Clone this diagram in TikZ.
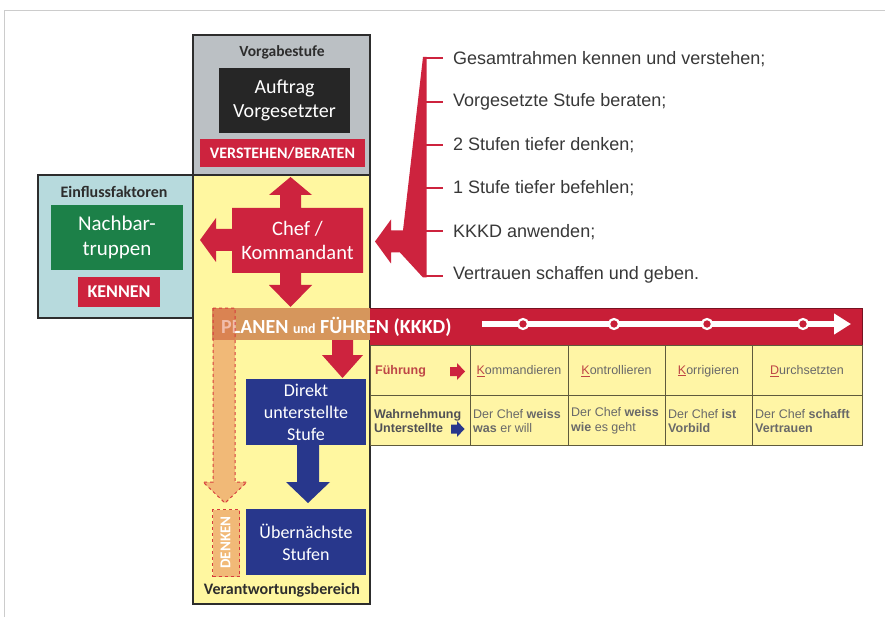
\documentclass[tikz,border=0pt]{standalone}
\usepackage{fontspec}
\setmainfont{Carlito}
\newfontfamily\arial{Liberation Sans}
\usetikzlibrary{arrows.meta}
\definecolor{cred}{RGB}{205,35,62}
\definecolor{cgray}{RGB}{187,192,196}
\definecolor{cblack}{RGB}{38,38,38}
\definecolor{clblue}{RGB}{183,218,221}
\definecolor{cgreen}{RGB}{28,128,72}
\definecolor{cyel}{RGB}{255,247,160}
\definecolor{ctab}{RGB}{255,245,165}
\definecolor{cnavy}{RGB}{40,55,140}
\definecolor{corange}{RGB}{214,150,92}
\definecolor{cband}{RGB}{200,30,55}
\definecolor{ctxt}{RGB}{105,105,105}
\definecolor{cdtxt}{RGB}{80,80,85}
\definecolor{cbrown}{RGB}{190,70,70}
\definecolor{cframe}{RGB}{45,45,45}
\definecolor{cdash}{RGB}{215,60,60}
\definecolor{cline}{RGB}{95,90,60}
\tikzset{
  area/.style={draw=cframe, line width=1.1pt, inner sep=0pt, outer sep=0pt, anchor=north west},
  tile/.style={inner sep=0pt, outer sep=0pt, anchor=north west, text=white, align=center},
  lbl/.style={font=\bfseries\fontsize{16}{18}\selectfont, text=cframe, inner sep=0pt},
  listtxt/.style={anchor=west, inner sep=0pt, font=\arial\fontsize{18}{20}\selectfont, text=black!78},
  tick/.style={draw=cred, line width=2.6pt},
  tabtxt/.style={inner sep=0pt, font=\arial\fontsize{12.5}{14.5}\selectfont, text=ctxt},
  cell/.style={tabtxt, anchor=west, align=left},
  dashbox/.style={draw=cdash, dashed, line width=1pt, fill={rgb,255:red,225;green,110;blue,70}, fill opacity=0.45},
}
\newcommand{\kk}[1]{\textcolor{cbrown}{\underline{#1}}}
\begin{document}
\begin{tikzpicture}[x=1pt,y=-1pt]
\useasboundingbox (0,0) rectangle (885,617);
\fill[white] (0,0) rectangle (885,617);
% faint frame
\draw[black!20, line width=0.8pt] (4,617) -- (4,10) -- (885,10);

% Vorgabestufe
\node[area, fill=cgray, minimum width=177pt, minimum height=140pt] (vorg) at (193,35) {};
\node[lbl, font=\bfseries\fontsize{15.5}{18}\selectfont] (vorglbl) at (282,52) {Vorgabestufe};
\node[tile, fill=cblack, minimum width=131pt, minimum height=65pt, font=\fontsize{20}{24}\selectfont] (auftrag) at (219,68) {Auftrag\\Vorgesetzter};
\node[tile, fill=cred, minimum width=165pt, minimum height=28pt, font=\bfseries\fontsize{16}{18}\selectfont] (verst) at (200,139) {VERSTEHEN/BERATEN};

% Einflussfaktoren
\node[area, fill=clblue, minimum width=155pt, minimum height=143pt] (einfl) at (38,175) {};
\node[lbl] (einfllbl) at (114,192) {Einflussfaktoren};
\node[tile, fill=cgreen, minimum width=132pt, minimum height=65pt, font=\fontsize{21}{25}\selectfont] (nachbar) at (51,205) {Nachbar-\\truppen};
\node[tile, fill=cred, minimum width=82pt, minimum height=30pt, font=\bfseries\fontsize{18}{20}\selectfont] (kennen) at (78,277) {KENNEN};

% Verantwortungsbereich
\node[area, fill=cyel, minimum width=177pt, minimum height=429pt] (verant) at (193,175) {};
\node[lbl] (verantlbl) at (282,590) {Verantwortungsbereich};

% Chef cross
\fill[cred] (232,208) -- (280,208) -- (280,195) -- (269,195) -- (290.5,177) -- (312,195) -- (301,195) -- (301,208)
  -- (363,208) -- (363,273) -- (301,273) -- (301,285) -- (312,285) -- (290.5,307) -- (269,285) -- (280,285) -- (280,273)
  -- (232,273) -- (232,251) -- (216,251) -- (216,262) -- (200,240) -- (216,218) -- (216,229) -- (232,229) -- cycle;
\node[text=white, align=center, inner sep=0pt, font=\fontsize{20.5}{24}\selectfont] (chef) at (297.5,240.5) {Chef /\\Kommandant};

% bracket arrow
\fill[cred] (423,57) -- (426.5,57) -- (426.5,277.5) -- (423,277.5) -- (400,252.5) -- (391,252.5) -- (391,263.5)
  -- (375,241.5) -- (391,219.5) -- (391,230.5) -- (403,230.5) -- cycle;
\foreach \yy in {58,102,145,188,231,276} \draw[tick] (424,\yy) -- (443,\yy);
\node[listtxt] (l1) at (453,59) {Gesamtrahmen kennen und verstehen;};
\node[listtxt] (l2) at (453,102) {Vorgesetzte Stufe beraten;};
\node[listtxt] (l3) at (453,145) {2 Stufen tiefer denken;};
\node[listtxt] (l4) at (453,188) {1 Stufe tiefer befehlen;};
\node[listtxt] (l5) at (453,232) {KKKD anwenden;};
\node[listtxt] (l6) at (453,275) {Vertrauen schaffen und geben.};

% band
\fill[corange] (212,308) rectangle (370,340);
\fill[cband] (370,308) rectangle (862,345);
\draw[cband!60!black, line width=0.8pt] (370,308) -- (862,308) -- (862,345);
\node[anchor=base west, inner sep=0pt, text=white, font=\bfseries\fontsize{20}{22}\selectfont] (band) at (221,333)
  {PLANEN {\fontsize{14}{14}\selectfont und} FÜHREN (KKKD)};
\draw[white, line width=6.5pt, -{Triangle[length=17pt,width=20pt]}] (482,324) -- (851,324);
\foreach \xx in {523,614,707,803}
  \filldraw[fill=cband, draw=white, line width=2.2pt] (\xx,324) circle (5);

% table
\fill[ctab] (370,345) rectangle (862,445);
\draw[cline, line width=1pt] (370,345) rectangle (862,445);
\draw[cline, line width=1pt] (370,395) -- (862,395);
\foreach \xx in {470,568,665,752} \draw[cline, line width=1pt] (\xx,345) -- (\xx,445);
\node[tabtxt, anchor=west, text=cbrown, font=\arial\bfseries\fontsize{12.5}{14.5}\selectfont] (fuehr) at (375,371) {Führung};
\fill[cred] (450,367) -- (457,367) -- (457,363) -- (465,371.5) -- (457,380) -- (457,376) -- (450,376) -- cycle;
\node[tabtxt] (k1) at (519,371) {\kk{K}ommandieren};
\node[tabtxt] (k2) at (616.5,371) {\kk{K}ontrollieren};
\node[tabtxt] (k3) at (708.5,371) {\kk{K}orrigieren};
\node[tabtxt] (k4) at (807,371) {\kk{D}urchsetzten};
\node[cell, text=cdtxt, font=\arial\bfseries\fontsize{12.5}{14.5}\selectfont] (wahr) at (374,421) {Wahrnehmung\\Unterstellte};
\fill[cnavy] (451,424.5) -- (457,424.5) -- (457,421) -- (464.5,429) -- (457,437) -- (457,433.5) -- (451,433.5) -- cycle;
\node[cell] (w1) at (473,421) {Der Chef \textbf{weiss}\\\textbf{was} er will};
\node[cell] (w2) at (571,421) {Der Chef \textbf{weiss}\\\textbf{wie} es geht};
\node[cell] (w3) at (668,421) {Der Chef \textbf{ist}\\\textbf{Vorbild}};
\node[cell] (w4) at (755,421) {Der Chef \textbf{schafft}\\\textbf{Vertrauen}};

% red arrow band -> Direkt
\fill[cred] (332,340) -- (353,340) -- (353,355) -- (363,355) -- (342.5,378) -- (322,355) -- (332,355) -- cycle;

% blue boxes
\node[tile, fill=cnavy, minimum width=120pt, minimum height=66pt, font=\fontsize{18}{22}\selectfont] (direkt) at (246,379) {Direkt\\unterstellte\\Stufe};
\node[tile, fill=cnavy, minimum width=120pt, minimum height=66pt, font=\fontsize{18}{22}\selectfont] (uebern) at (246,509) {Übernächste\\Stufen};
\fill[cnavy] (297,445) -- (319,445) -- (319,482) -- (330,482) -- (308,503) -- (286,482) -- (297,482) -- cycle;

% dashed DENKEN arrow
\path[dashbox] (213,308) -- (235,308) -- (235,482) -- (247,482) -- (225,503) -- (203,482) -- (213,482) -- cycle;
\node[dashbox, anchor=north west, minimum width=27pt, minimum height=67pt, inner sep=0pt] (denkbox) at (212,509) {};
\node[rotate=90, text=white, inner sep=0pt, font=\bfseries\fontsize{15}{15}\selectfont] (denken) at (225.5,542.5) {DENKEN};
\end{tikzpicture}
\end{document}
